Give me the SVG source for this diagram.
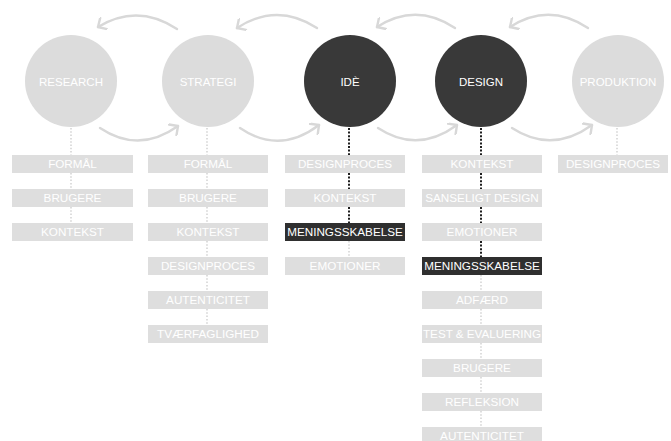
<svg xmlns="http://www.w3.org/2000/svg" width="671" height="441" viewBox="0 0 671 441">
  <defs>
    <marker id="chev" markerUnits="userSpaceOnUse" markerWidth="14" markerHeight="14" refX="8" refY="7" orient="auto" viewBox="0 0 14 14">
      <path d="M1.5,0.5 L8,7 L1.5,13.5" fill="none" stroke="#d8d8d8" stroke-width="2.4" stroke-linecap="round" stroke-linejoin="round"/>
    </marker>
    <style>
      text { font-family: "Liberation Sans", Arial, sans-serif; fill: #ffffff; text-anchor: middle; }
      .circ-light { fill: #dcdcdc; }
      .circ-dark { fill: #393939; }
      .lbl { font-size: 11.5px; }
      .box-light { fill: #dedede; }
      .box-dark { fill: #2f2f2f; }
      .bt { font-size: 11.7px; }
      .arc { fill: none; stroke: #d8d8d8; stroke-width: 2.4; stroke-linecap: round; marker-end: url(#chev); }
      .dot-light { stroke: #cfcfcf; stroke-width: 1.4; stroke-dasharray: 1.5 1.8; }
      .dot-dark { stroke: #1e1e1e; stroke-width: 2; stroke-dasharray: 2 1.6; }
    </style>
  </defs>

  <rect width="671" height="441" fill="#ffffff"/>

  <!-- connectors: process arcs and dotted stems -->
  <g id="connectors">
    <path class="arc" d="M177,29 Q137.5,3 98,27"/>
    <path class="arc" d="M317,28 Q277,2 237,28"/>
    <path class="arc" d="M455,28 Q416,2 377,27"/>
    <path class="arc" d="M588,28 Q549,2 510,27"/>
    <path class="arc" d="M100,128 Q139,154 178,126"/>
    <path class="arc" d="M240,128 Q279.5,155 319,125"/>
    <path class="arc" d="M378,128 Q417.5,154 457,125"/>
    <path class="arc" d="M512,128 Q552,154 592,125"/>

    <!-- research stem -->
    <g class="dot-light">
      <line x1="71" y1="128" x2="71" y2="155"/>
      <line x1="71" y1="173" x2="71" y2="189"/>
      <line x1="71" y1="207" x2="71" y2="223"/>
    </g>
    <!-- strategi stem -->
    <g class="dot-light">
      <line x1="207" y1="128" x2="207" y2="155"/>
      <line x1="207" y1="173" x2="207" y2="189"/>
      <line x1="207" y1="207" x2="207" y2="223"/>
      <line x1="207" y1="241" x2="207" y2="257"/>
      <line x1="207" y1="275" x2="207" y2="291"/>
      <line x1="207" y1="309" x2="207" y2="325"/>
    </g>
    <!-- idè stem -->
    <g class="dot-dark">
      <line x1="349" y1="128" x2="349" y2="155"/>
      <line x1="349" y1="173" x2="349" y2="189"/>
      <line x1="349" y1="207" x2="349" y2="223"/>
    </g>
    <g class="dot-light">
      <line x1="349" y1="241" x2="349" y2="257"/>
    </g>
    <!-- design stem -->
    <g class="dot-dark">
      <line x1="481" y1="128" x2="481" y2="155"/>
      <line x1="481" y1="173" x2="481" y2="189"/>
      <line x1="481" y1="207" x2="481" y2="223"/>
      <line x1="481" y1="241" x2="481" y2="257"/>
    </g>
    <g class="dot-light">
      <line x1="481" y1="275" x2="481" y2="291"/>
      <line x1="481" y1="309" x2="481" y2="325"/>
      <line x1="481" y1="343" x2="481" y2="359"/>
      <line x1="481" y1="377" x2="481" y2="393"/>
      <line x1="481" y1="411" x2="481" y2="427"/>
    </g>
    <!-- produktion stem -->
    <g class="dot-light">
      <line x1="617" y1="128" x2="617" y2="155"/>
    </g>
  </g>

  <!-- phase circles -->
  <g id="research">
    <circle class="circ-light" cx="71" cy="81" r="46"/>
    <text class="lbl" x="71" y="85.5">RESEARCH</text>
  </g>
  <g id="strategi">
    <circle class="circ-light" cx="208" cy="81" r="46"/>
    <text class="lbl" x="208" y="85.5">STRATEGI</text>
  </g>
  <g id="ide">
    <circle class="circ-dark" cx="350" cy="81" r="46"/>
    <text class="lbl" x="350" y="85.5">IDÈ</text>
  </g>
  <g id="design">
    <circle class="circ-dark" cx="481" cy="81" r="46"/>
    <text class="lbl" x="481" y="85.5">DESIGN</text>
  </g>
  <g id="produktion">
    <circle class="circ-light" cx="618" cy="81" r="46"/>
    <text class="lbl" x="618" y="85.5">PRODUKTION</text>
  </g>

  <!-- research topics -->
  <g id="research-formal"><rect class="box-light" x="12" y="155" width="121" height="18"/><text class="bt" x="72.5" y="168.2">FORMÅL</text></g>
  <g id="research-brugere"><rect class="box-light" x="12" y="189" width="121" height="18"/><text class="bt" x="72.5" y="202.2">BRUGERE</text></g>
  <g id="research-kontekst"><rect class="box-light" x="12" y="223" width="121" height="18"/><text class="bt" x="72.5" y="236.2">KONTEKST</text></g>

  <!-- strategi topics -->
  <g id="strategi-formal"><rect class="box-light" x="148" y="155" width="120" height="18"/><text class="bt" x="208" y="168.2">FORMÅL</text></g>
  <g id="strategi-brugere"><rect class="box-light" x="148" y="189" width="120" height="18"/><text class="bt" x="208" y="202.2">BRUGERE</text></g>
  <g id="strategi-kontekst"><rect class="box-light" x="148" y="223" width="120" height="18"/><text class="bt" x="208" y="236.2">KONTEKST</text></g>
  <g id="strategi-designproces"><rect class="box-light" x="148" y="257" width="120" height="18"/><text class="bt" x="208" y="270.2">DESIGNPROCES</text></g>
  <g id="strategi-autenticitet"><rect class="box-light" x="148" y="291" width="120" height="18"/><text class="bt" x="208" y="304.2">AUTENTICITET</text></g>
  <g id="strategi-tvaerfaglighed"><rect class="box-light" x="148" y="325" width="120" height="18"/><text class="bt" x="208" y="338.2">TVÆRFAGLIGHED</text></g>

  <!-- idè topics -->
  <g id="ide-designproces"><rect class="box-light" x="285" y="155" width="120" height="18"/><text class="bt" x="345" y="168.2">DESIGNPROCES</text></g>
  <g id="ide-kontekst"><rect class="box-light" x="285" y="189" width="120" height="18"/><text class="bt" x="345" y="202.2">KONTEKST</text></g>
  <g id="ide-meningsskabelse"><rect class="box-dark" x="285" y="223" width="120" height="18"/><text class="bt" x="345" y="236.2">MENINGSSKABELSE</text></g>
  <g id="ide-emotioner"><rect class="box-light" x="285" y="257" width="120" height="18"/><text class="bt" x="345" y="270.2">EMOTIONER</text></g>

  <!-- design topics -->
  <g id="design-kontekst"><rect class="box-light" x="422" y="155" width="120" height="18"/><text class="bt" x="482" y="168.2">KONTEKST</text></g>
  <g id="design-sanseligt"><rect class="box-light" x="422" y="189" width="120" height="18"/><text class="bt" x="482" y="202.2">SANSELIGT DESIGN</text></g>
  <g id="design-emotioner"><rect class="box-light" x="422" y="223" width="120" height="18"/><text class="bt" x="482" y="236.2">EMOTIONER</text></g>
  <g id="design-meningsskabelse"><rect class="box-dark" x="422" y="257" width="120" height="18"/><text class="bt" x="482" y="270.2">MENINGSSKABELSE</text></g>
  <g id="design-adfaerd"><rect class="box-light" x="422" y="291" width="120" height="18"/><text class="bt" x="482" y="304.2">ADFÆRD</text></g>
  <g id="design-test"><rect class="box-light" x="422" y="325" width="120" height="18"/><text class="bt" x="482" y="338.2" textLength="118" lengthAdjust="spacingAndGlyphs">TEST &amp; EVALUERING</text></g>
  <g id="design-brugere"><rect class="box-light" x="422" y="359" width="120" height="18"/><text class="bt" x="482" y="372.2">BRUGERE</text></g>
  <g id="design-refleksion"><rect class="box-light" x="422" y="393" width="120" height="18"/><text class="bt" x="482" y="406.2">REFLEKSION</text></g>
  <g id="design-autenticitet"><rect class="box-light" x="422" y="427" width="120" height="18"/><text class="bt" x="482" y="440.2">AUTENTICITET</text></g>

  <!-- produktion topics -->
  <g id="produktion-designproces"><rect class="box-light" x="558" y="155" width="110" height="18"/><text class="bt" x="613" y="168.2">DESIGNPROCES</text></g>
</svg>
